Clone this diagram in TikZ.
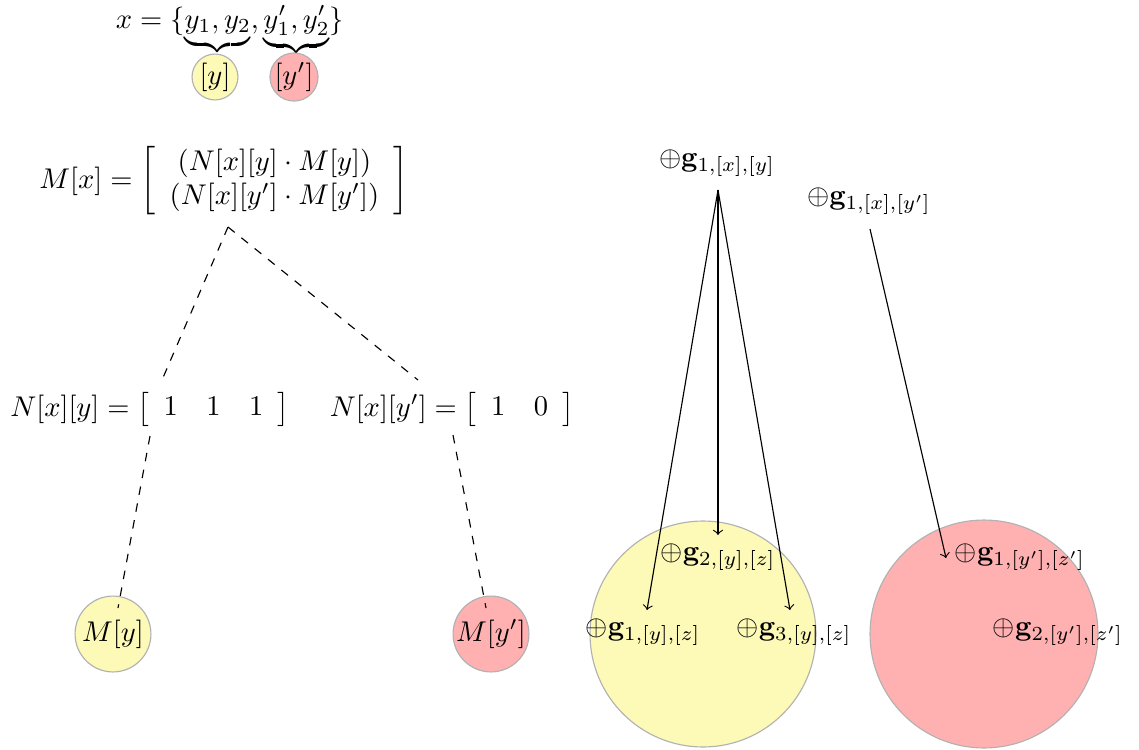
\documentclass[tikz,border=0pt]{standalone}
\usetikzlibrary{calc}
\definecolor{cy}{RGB}{253,249,183}
\definecolor{cr}{RGB}{255,176,176}
\definecolor{cb}{RGB}{178,178,178}
\begin{document}
\begin{tikzpicture}[x=0.3505pt,y=-0.3505pt,
  ball/.style={circle,draw=cb,inner sep=0pt},
  yb/.style={ball,fill=cy},
  rb/.style={ball,fill=cr},
  link/.style={dashed},
  arr/.style={->}]
\useasboundingbox (0,0) rectangle (1139,749);
% big circles
\node[yb,minimum size=79.2pt] (Cy) at (703,634) {};
\node[rb,minimum size=79.9pt] (Cr) at (984,634) {};
% top
\node (top) at (230,31) {$x=\{\underbrace{y_1,y_2},\underbrace{y'_1,y'_2}\}$};
\node[yb,minimum size=16.1pt] (by) at (215,77) {$[y]$};
\node[rb,minimum size=16.8pt] (byp) at (294,77) {$[y']$};
% matrices
\node (Mx) at (224,181) {$M[x]=\left[\begin{array}{c}(N[x][y]\cdot M[y])\\(N[x][y']\cdot M[y'])\end{array}\right]$};
\node (Ny) at (150,409) {$N[x][y]=\left[\begin{array}{ccc}1&1&1\end{array}\right]$};
\node (Nyp) at (452,409) {$N[x][y']=\left[\begin{array}{cc}1&0\end{array}\right]$};
\node[yb,minimum size=26.6pt] (My) at (113,634) {$M[y]$};
\node[rb,minimum size=26.6pt] (Myp) at (491,634) {$M[y']$};
% g nodes
\node (g1x) at (717,163) {$\oplus\mathbf{g}_{1,[x],[y]}$};
\node (g1xp) at (869,201) {$\oplus\mathbf{g}_{1,[x],[y']}$};
\node (g2y) at (718,557) {$\oplus\mathbf{g}_{2,[y],[z]}$};
\node (g1y) at (643,632) {$\oplus\mathbf{g}_{1,[y],[z]}$};
\node (g3y) at (794,632) {$\oplus\mathbf{g}_{3,[y],[z]}$};
\node (g1yp) at (1020,557) {$\oplus\mathbf{g}_{1,[y'],[z']}$};
\node (g2yp) at (1058,632) {$\oplus\mathbf{g}_{2,[y'],[z']}$};
% dashed links
\draw[link] ($(Mx)+(4,46)$) -- ($(Ny)+(12,-29)$);
\draw[link] ($(Mx)+(4,46)$) -- ($(Nyp)+(-34,-29)$);
\draw[link] ($(Ny)+(0,27)$) -- ($(My)+(5,-26)$);
\draw[link] ($(Nyp)+(1,26)$) -- ($(Myp)+(-5,-26)$);
% arrows
\draw[arr] ($(g1x)+(1,27)$) -- ($(g1y)+(4,-22)$);
\draw[arr] ($(g1x)+(1,27)$) -- ($(g2y)+(0,-22)$);
\draw[arr] ($(g1x)+(1,27)$) -- ($(g3y)+(-4,-22)$);
\draw[arr] ($(g1xp)+(1,28)$) -- ($(g1yp)+(-74,1)$);
\end{tikzpicture}
\end{document}
